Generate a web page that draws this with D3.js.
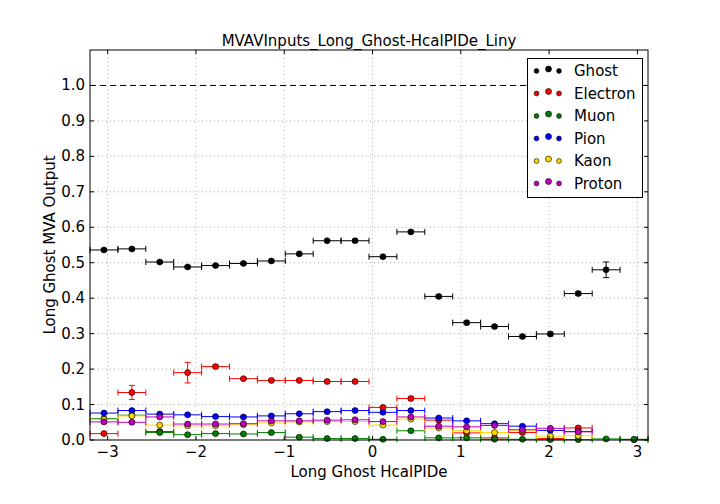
<!DOCTYPE html>
<html>
<head>
<meta charset="utf-8">
<script src="https://cdn.jsdelivr.net/npm/d3@7/dist/d3.min.js"></script>
<style>
  body { margin: 0; background: #fff; }
  text { font-family: "DejaVu Sans", sans-serif; fill: #000; }
  .grid line { stroke: #b0b0b0; stroke-dasharray: 1,3; stroke-width: 1; }
</style>
</head>
<body>
<svg id="canvas" width="720" height="504"></svg>
<script>
// bin edges along Long Ghost HcalPIDe
const binEdges = [-3.2, -2.884, -2.568, -2.252, -1.936, -1.62, -1.304, -0.988, -0.672, -0.356,
                  -0.04, 0.276, 0.592, 0.908, 1.224, 1.54, 1.856, 2.172, 2.488, 2.804, 3.12];

const seriesNames = ['Ghost', 'Electron', 'Muon', 'Pion', 'Kaon', 'Proton'];
const seriesColors = ['#000000', '#ff0000', '#008000', '#0000ff', '#ffd700', '#bf00bf'];

const ghost    = [0.536, 0.539, 0.502, 0.488, 0.492, 0.498, 0.505, 0.525, 0.562, 0.562,
                  0.517, 0.587, 0.405, 0.331, 0.320, 0.292, 0.299, 0.413, 0.480, 0.001];
const ghostErr = [0.004, 0.004, 0.003, 0.003, 0.003, 0.003, 0.003, 0.003, 0.003, 0.004,
                  0.004, 0.004, 0.004, 0.004, 0.004, 0.004, 0.005, 0.005, 0.022, 0.002];
const electron    = [0.018, 0.134, 0.024, 0.190, 0.207, 0.173, 0.168, 0.168, 0.165, 0.165,
                     0.092, 0.117, 0.056, 0.020, 0.006, 0.021, 0.004, 0.034, null, null];
const electronErr = [0.003, 0.020, 0.004, 0.029, 0.004, 0.003, 0.003, 0.003, 0.003, 0.003,
                     0.004, 0.004, 0.004, 0.004, 0.003, 0.003, 0.003, 0.004, 0, 0];
const muon   = [0.060, 0.070, 0.021, 0.015, 0.018, 0.017, 0.021, 0.008, 0.004, 0.004,
                0.002, 0.026, 0.006, 0.006, 0.002, 0.002, 0.001, 0.001, 0.003, 0.002];
const pion   = [0.076, 0.083, 0.073, 0.071, 0.066, 0.065, 0.068, 0.074, 0.080, 0.083,
                0.078, 0.083, 0.062, 0.054, 0.046, 0.039, 0.027, 0.024, null, null];
const kaon   = [0.058, 0.068, 0.042, 0.040, 0.040, 0.043, 0.048, 0.051, 0.052, 0.052,
                0.042, 0.059, 0.034, 0.026, 0.021, 0.026, 0.011, 0.012, null, null];
const proton = [0.051, 0.050, 0.065, 0.045, 0.045, 0.046, 0.054, 0.054, 0.056, 0.057,
                0.052, 0.065, 0.039, 0.037, 0.041, 0.029, 0.033, 0.023, null, null];
const smallErr = [0.002, 0.002, 0.002, 0.002, 0.002, 0.002, 0.002, 0.002, 0.002, 0.002,
                  0.002, 0.002, 0.002, 0.002, 0.002, 0.002, 0.002, 0.002, 0.002, 0.002];

const seriesValues = [ghost, electron, muon, pion, kaon, proton];
const seriesErrors = [ghostErr, electronErr, smallErr, smallErr, smallErr, smallErr];

const xTicks = [-3, -2, -1, 0, 1, 2, 3];
const yTicks = [0.0, 0.1, 0.2, 0.3, 0.4, 0.5, 0.6, 0.7, 0.8, 0.9, 1.0];
const refLine = 1.0;

const titleText = 'MVAVInputs_Long_Ghost-HcalPIDe_Liny';
const xLabel = 'Long Ghost HcalPIDe';
const yLabel = 'Long Ghost MVA Output';

const plotLeft = 90, plotRight = 648, plotTop = 50, plotBottom = 440;

const x = d3.scaleLinear().domain([-3.2, 3.12]).range([plotLeft, plotRight]);
const y = d3.scaleLinear().domain([0, 1.1]).range([plotBottom, plotTop]);

const svg = d3.select('#canvas');

// grid
const grid = svg.append('g').attr('class', 'grid');
grid.selectAll('.gx').data(xTicks).enter().append('line')
    .attr('x1', d => x(d)).attr('x2', d => x(d))
    .attr('y1', plotTop).attr('y2', plotBottom);
grid.selectAll('.gy').data(yTicks).enter().append('line')
    .attr('x1', plotLeft).attr('x2', plotRight)
    .attr('y1', d => y(d)).attr('y2', d => y(d));

// dashed reference line at 1.0
svg.append('line')
    .attr('x1', plotLeft).attr('x2', plotRight)
    .attr('y1', y(refLine)).attr('y2', y(refLine))
    .attr('stroke', '#000').attr('stroke-width', 1)
    .attr('stroke-dasharray', '6,4');

// series
const plot = svg.append('g');
seriesNames.forEach((name, s) => {
    const color = seriesColors[s];
    const vals = seriesValues[s];
    const errs = seriesErrors[s];
    const pts = vals.map((v, i) => ({
        v, e: errs[i], lo: binEdges[i], hi: binEdges[i + 1], c: (binEdges[i] + binEdges[i + 1]) / 2
    })).filter(d => d.v !== null);

    const g = plot.append('g');
    const eb = g.selectAll('g').data(pts).enter().append('g')
        .attr('stroke', color).attr('stroke-width', 1);
    // horizontal bar
    eb.append('line')
        .attr('x1', d => x(d.lo)).attr('x2', d => x(d.hi))
        .attr('y1', d => y(d.v)).attr('y2', d => y(d.v));
    // horizontal caps
    eb.append('line')
        .attr('x1', d => x(d.lo)).attr('x2', d => x(d.lo))
        .attr('y1', d => y(d.v) - 3).attr('y2', d => y(d.v) + 3);
    eb.append('line')
        .attr('x1', d => x(d.hi)).attr('x2', d => x(d.hi))
        .attr('y1', d => y(d.v) - 3).attr('y2', d => y(d.v) + 3);
    // vertical bar with caps
    eb.append('line')
        .attr('x1', d => x(d.c)).attr('x2', d => x(d.c))
        .attr('y1', d => y(d.v - d.e)).attr('y2', d => y(d.v + d.e));
    eb.append('line')
        .attr('x1', d => x(d.c) - 3).attr('x2', d => x(d.c) + 3)
        .attr('y1', d => y(d.v + d.e)).attr('y2', d => y(d.v + d.e));
    eb.append('line')
        .attr('x1', d => x(d.c) - 3).attr('x2', d => x(d.c) + 3)
        .attr('y1', d => y(d.v - d.e)).attr('y2', d => y(d.v - d.e));
    // markers
    g.selectAll('circle').data(pts).enter().append('circle')
        .attr('cx', d => x(d.c)).attr('cy', d => y(d.v)).attr('r', 3)
        .attr('fill', color).attr('stroke', '#000').attr('stroke-width', 0.6);
});

// frame
svg.append('rect')
    .attr('x', plotLeft).attr('y', plotTop)
    .attr('width', plotRight - plotLeft).attr('height', plotBottom - plotTop)
    .attr('fill', 'none').attr('stroke', '#000').attr('stroke-width', 1);

// ticks (inside, all four sides)
const tickLen = 4;
const ticks = svg.append('g').attr('stroke', '#000').attr('stroke-width', 1);
xTicks.forEach(t => {
    ticks.append('line').attr('x1', x(t)).attr('x2', x(t)).attr('y1', plotBottom).attr('y2', plotBottom - tickLen);
    ticks.append('line').attr('x1', x(t)).attr('x2', x(t)).attr('y1', plotTop).attr('y2', plotTop + tickLen);
});
yTicks.forEach(t => {
    ticks.append('line').attr('x1', plotLeft).attr('x2', plotLeft + tickLen).attr('y1', y(t)).attr('y2', y(t));
    ticks.append('line').attr('x1', plotRight).attr('x2', plotRight - tickLen).attr('y1', y(t)).attr('y2', y(t));
});

// tick labels
svg.selectAll('.xl').data(xTicks).enter().append('text')
    .attr('x', d => x(d)).attr('y', plotBottom + 17)
    .attr('text-anchor', 'middle').attr('font-size', 15)
    .text(d => d < 0 ? '\u2212' + Math.abs(d) : d);
svg.selectAll('.yl').data(yTicks).enter().append('text')
    .attr('x', plotLeft - 5).attr('y', d => y(d) + 5)
    .attr('text-anchor', 'end').attr('font-size', 15)
    .text(d => d.toFixed(1));

// labels
svg.append('text').attr('x', (plotLeft + plotRight) / 2).attr('y', 46)
    .attr('text-anchor', 'middle').attr('font-size', 15).text(titleText);
svg.append('text').attr('x', (plotLeft + plotRight) / 2).attr('y', 477)
    .attr('text-anchor', 'middle').attr('font-size', 15).text(xLabel);
svg.append('text')
    .attr('transform', `translate(55,${(plotTop + plotBottom) / 2}) rotate(-90)`)
    .attr('text-anchor', 'middle').attr('font-size', 15).text(yLabel);

// legend
const leg = svg.append('g');
leg.append('rect').attr('x', 527.5).attr('y', 58.5).attr('width', 115).attr('height', 139)
    .attr('fill', '#fff').attr('stroke', '#000').attr('stroke-width', 1);
const legOffsets = [[-12, 1, 2.4], [0, -1, 3], [10.5, 1, 2.4]];
seriesNames.forEach((name, s) => {
    const cy = 70 + s * 22.5;
    legOffsets.forEach(o => {
        leg.append('circle').attr('cx', 548.5 + o[0]).attr('cy', cy + o[1]).attr('r', o[2])
            .attr('fill', seriesColors[s]).attr('stroke', '#000').attr('stroke-width', 0.6);
    });
    leg.append('text').attr('x', 574).attr('y', cy + 6)
        .attr('font-size', 15).text(name);
});
</script>
</body>
</html>
